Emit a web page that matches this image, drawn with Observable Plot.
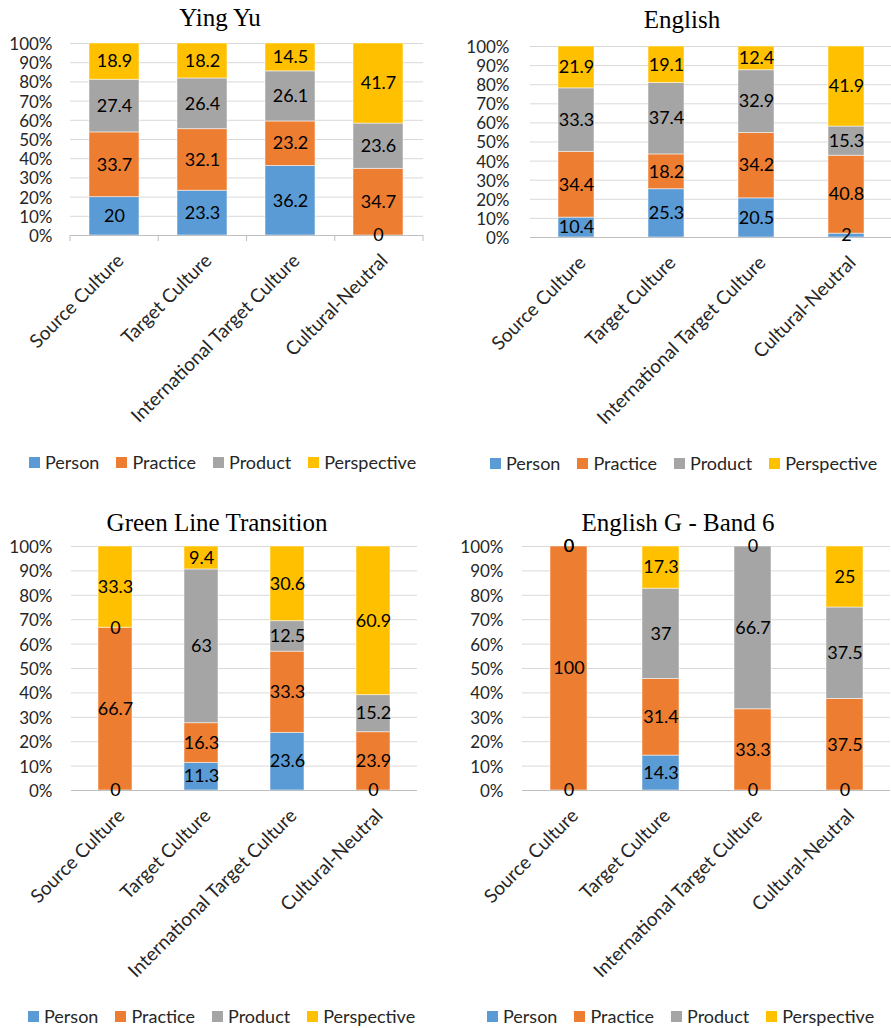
<!DOCTYPE html>
<html><head><meta charset="utf-8">
<script src="https://cdn.jsdelivr.net/npm/d3@7"></script>
<script src="https://cdn.jsdelivr.net/npm/@observablehq/plot@0.6"></script>
<style>
body{margin:0;background:#fff;}
#root{position:relative;width:891px;height:1028px;overflow:hidden;font-family:Lato,sans-serif;background:#fff;}
.title{position:absolute;font-family:"Liberation Serif","Times New Roman",serif;font-size:25px;color:#000;transform:translateX(-50%);white-space:nowrap;line-height:25px;}
.legend{position:absolute;display:flex;align-items:center;font-size:18px;color:#262626;white-space:nowrap;line-height:20px;transform:translateY(-50%);}
.legend .sw{display:inline-block;width:11px;height:11px;margin-right:5px;}
.legend .item{display:flex;align-items:center;margin-right:17px;}
</style></head><body><div id="root"></div>
<script>
// ---- data ----
const categories = ["Source Culture", "Target Culture", "International Target Culture", "Cultural-Neutral"];
const series = ["Person", "Practice", "Product", "Perspective"];
const seriesColors = ["#5B9BD5", "#ED7D31", "#A5A5A5", "#FFC000"];
const yTicks = [0, 10, 20, 30, 40, 50, 60, 70, 80, 90, 100];
const titles = ["Ying Yu", "English", "Green Line Transition", "English G - Band 6"];

// values per series, one entry per category
const yingYuPerson      = [20, 23.3, 36.2, 0];
const yingYuPractice    = [33.7, 32.1, 23.2, 34.7];
const yingYuProduct     = [27.4, 26.4, 26.1, 23.6];
const yingYuPerspective = [18.9, 18.2, 14.5, 41.7];

const englishPerson      = [10.4, 25.3, 20.5, 2];
const englishPractice    = [34.4, 18.2, 34.2, 40.8];
const englishProduct     = [33.3, 37.4, 32.9, 15.3];
const englishPerspective = [21.9, 19.1, 12.4, 41.9];

const greenLinePerson      = [0, 11.3, 23.6, 0];
const greenLinePractice    = [66.7, 16.3, 33.3, 23.9];
const greenLineProduct     = [0, 63, 12.5, 15.2];
const greenLinePerspective = [33.3, 9.4, 30.6, 60.9];

const englishGPerson      = [0, 14.3, 0, 0];
const englishGPractice    = [100, 31.4, 33.3, 37.5];
const englishGProduct     = [0, 37, 66.7, 37.5];
const englishGPerspective = [0, 17.3, 0, 25];

const panelValues = [
  [yingYuPerson, yingYuPractice, yingYuProduct, yingYuPerspective],
  [englishPerson, englishPractice, englishProduct, englishPerspective],
  [greenLinePerson, greenLinePractice, greenLineProduct, greenLinePerspective],
  [englishGPerson, englishGPractice, englishGProduct, englishGPerspective]
];

// ---- layout (positions only) ----
const layouts = [
  {left:0,   top:30,  w:445, h:400, mt:13, mb:195, ml:70, mr:22, pad:0.43, yPad:18, tx:220, ty:5,   lx:29,  ly:462, bandTicks:true},
  {left:445, top:30,  w:446, h:400, mt:16, mb:193, ml:85, mr:0,  pad:0.60, yPad:21, tx:682, ty:7,   lx:490, ly:463, bandTicks:false},
  {left:0,   top:530, w:445, h:470, mt:16, mb:210, ml:71, mr:28, pad:0.61, yPad:19, tx:217, ty:510, lx:28,  ly:1016, bandTicks:false},
  {left:445, top:530, w:446, h:470, mt:16, mb:210, ml:77, mr:1,  pad:0.60, yPad:19, tx:678, ty:510, lx:487, ly:1016, bandTicks:false}
];

const root = document.getElementById("root");

function tidy(vals) {
  const rows = [];
  categories.forEach((c, ci) => {
    series.forEach((s, si) => rows.push({category: c, series: s, value: vals[si][ci]}));
  });
  return rows;
}

function bandTickMark(index, scales, values, dim) {
  const g = d3.create("svg:g").attr("stroke", "#bfbfbf");
  const n = categories.length;
  const step = (dim.width - dim.marginLeft - dim.marginRight) / n;
  const y0 = dim.height - dim.marginBottom;
  for (let i = 0; i <= n; i++) {
    const x = dim.marginLeft + step * i;
    g.append("line").attr("x1", x).attr("x2", x).attr("y1", y0).attr("y2", y0 + 6);
  }
  return g.node();
}

layouts.forEach((L, pi) => {
  const data = tidy(panelValues[pi]);
  const marks = [
    Plot.ruleY(yTicks, {stroke: "#d9d9d9", strokeWidth: 1}),
    Plot.barY(data, Plot.stackY({x: "category", y: "value", z: "series", fill: "series", stroke: "#ffffff", strokeOpacity: 0.5, strokeWidth: 1})),
    Plot.ruleY([0], {stroke: "#bfbfbf", strokeWidth: 1}),
    Plot.text(data, Plot.stackY({x: "category", y: "value", z: "series", text: d => String(d.value), fill: "#000", fontSize: 18})),
    Plot.axisY({ticks: yTicks, tickFormat: d => d + "%", tickSize: 0, tickPadding: L.yPad, label: null, fontSize: 17, dy: 1}),
    Plot.axisX({tickRotate: -45, tickSize: 0, tickPadding: 22, dx: 6, label: null, fontSize: 19})
  ];
  if (L.bandTicks) marks.push(bandTickMark);
  const chart = Plot.plot({
    width: L.w, height: L.h,
    marginTop: L.mt, marginBottom: L.mb, marginLeft: L.ml, marginRight: L.mr,
    style: {fontFamily: "Lato, sans-serif", fontSize: "18px", color: "#262626", background: "transparent", overflow: "visible"},
    x: {type: "band", domain: categories, paddingInner: L.pad, paddingOuter: L.pad / 2, label: null, axis: null},
    y: {domain: [0, 100], label: null, axis: null},
    color: {domain: series, range: seriesColors},
    marks
  });
  chart.style.position = "absolute";
  chart.style.left = L.left + "px";
  chart.style.top = L.top + "px";
  root.appendChild(chart);

  const t = document.createElement("div");
  t.className = "title";
  t.textContent = titles[pi];
  t.style.left = L.tx + "px";
  t.style.top = L.ty + "px";
  root.appendChild(t);

  const lg = document.createElement("div");
  lg.className = "legend";
  lg.style.left = L.lx + "px";
  lg.style.top = L.ly + "px";
  series.forEach((s, si) => {
    const it = document.createElement("div");
    it.className = "item";
    const sw = document.createElement("span");
    sw.className = "sw";
    sw.style.background = seriesColors[si];
    it.appendChild(sw);
    it.appendChild(document.createTextNode(s));
    lg.appendChild(it);
  });
  root.appendChild(lg);
});
</script>
</body></html>
